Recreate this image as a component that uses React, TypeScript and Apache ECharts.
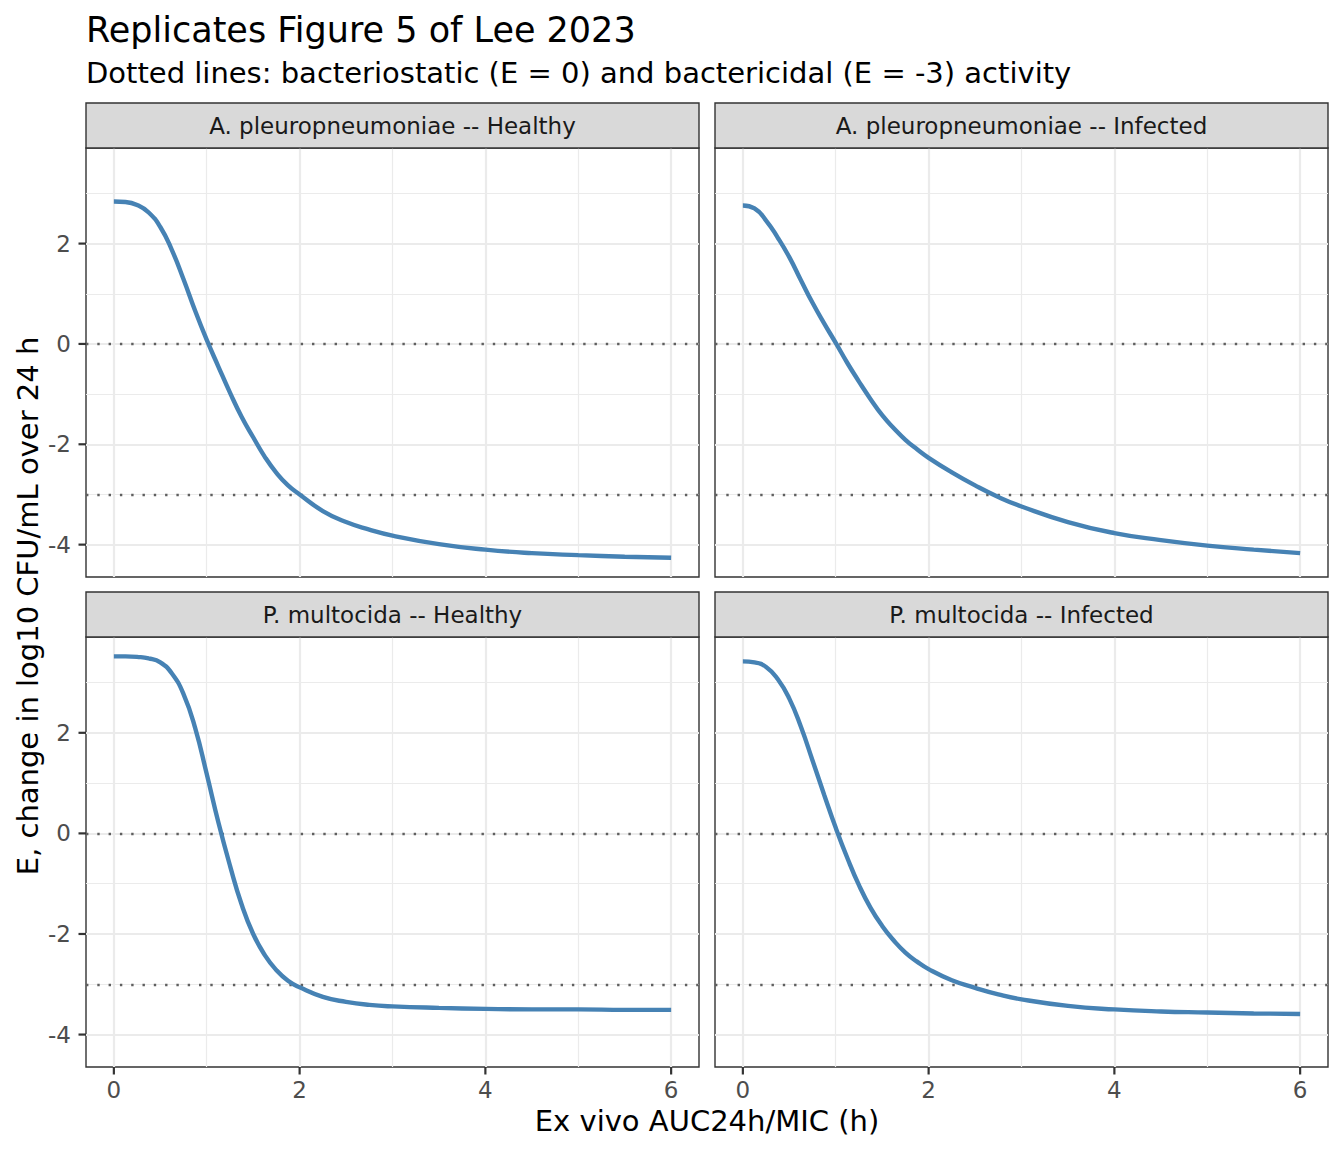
import React, { useEffect, useRef } from "react";
import * as echarts from "echarts";

// ---------- data ----------
const AUC_MIC = [0, 0.125, 0.25, 0.375, 0.5, 0.625, 0.75, 0.875, 1, 1.125, 1.25, 1.375, 1.5, 1.625, 1.75, 1.875, 2, 2.25, 2.5, 2.75, 3, 3.5, 4, 4.5, 5, 5.5, 6];

const PANEL_TITLES = [
  "A. pleuropneumoniae -- Healthy",
  "A. pleuropneumoniae -- Infected",
  "P. multocida -- Healthy",
  "P. multocida -- Infected",
];

const E_APP_HEALTHY = [2.84, 2.83, 2.77, 2.62, 2.33, 1.87, 1.29, 0.66, 0.08, -0.45, -0.97, -1.45, -1.86, -2.25, -2.57, -2.82, -3.0, -3.33, -3.55, -3.7, -3.82, -3.99, -4.1, -4.17, -4.21, -4.24, -4.26];
const E_APP_INFECTED = [2.76, 2.7, 2.46, 2.12, 1.73, 1.27, 0.82, 0.41, 0.02, -0.38, -0.75, -1.1, -1.42, -1.68, -1.91, -2.1, -2.27, -2.56, -2.82, -3.05, -3.24, -3.55, -3.77, -3.91, -4.02, -4.1, -4.17];
const E_PM_HEALTHY = [3.52, 3.52, 3.51, 3.48, 3.4, 3.18, 2.77, 2.1, 1.18, 0.22, -0.64, -1.41, -2.0, -2.42, -2.72, -2.93, -3.06, -3.25, -3.35, -3.41, -3.44, -3.47, -3.49, -3.5, -3.5, -3.51, -3.51];
const E_PM_INFECTED = [3.42, 3.4, 3.31, 3.07, 2.68, 2.12, 1.45, 0.77, 0.11, -0.49, -1.03, -1.48, -1.84, -2.13, -2.37, -2.55, -2.7, -2.92, -3.07, -3.2, -3.3, -3.43, -3.5, -3.54, -3.56, -3.58, -3.59];

const PANEL_VALUES = [E_APP_HEALTHY, E_APP_INFECTED, E_PM_HEALTHY, E_PM_INFECTED];

const X_TICKS = [0, 2, 4, 6];
const X_MINOR = [1, 3, 5];
const Y_TICKS = [-4, -2, 0, 2];
const Y_MINOR = [-3, -1, 1, 3];
const REF_LINES = [0, -3];

const X_MIN = -0.3;
const X_MAX = 6.3;
const Y_MIN = -4.645;
const Y_MAX = 3.905;

const TITLE = "Replicates Figure 5 of Lee 2023";
const SUBTITLE = "Dotted lines: bacteriostatic (E = 0) and bactericidal (E = -3) activity";
const X_TITLE = "Ex vivo AUC24h/MIC (h)";
const Y_TITLE = "E, change in log10 CFU/mL over 24 h";

// ---------- layout ----------
const FONT = "DejaVu Sans";
const COLS = [86, 715];
const PANEL_W = 613;
const ROWS = [
  { stripTop: 103, top: 148, h: 429 },
  { stripTop: 592, top: 637, h: 430 },
];
const STRIP_H = 45;
const TICK_LEN = 7.5;
const TICK_COLOR = "#333333";
const TICK_WIDTH = 2.2;

function baseGraphics(): any[] {
  const graphics: any[] = [];
  for (let i = 0; i < 4; i++) {
    const r = Math.floor(i / 2);
    const c = i % 2;
    const left = COLS[c];
    const row = ROWS[r];
    graphics.push({
      type: "rect",
      shape: { x: left, y: row.stripTop, width: PANEL_W, height: STRIP_H },
      style: { fill: "#D9D9D9", stroke: "#333333", lineWidth: 1.4 },
      z: 10,
    });
    graphics.push({
      type: "text",
      x: left + PANEL_W / 2,
      y: row.stripTop + STRIP_H / 2,
      style: {
        text: PANEL_TITLES[i],
        fontSize: 23,
        fontFamily: FONT,
        fill: "#1A1A1A",
        align: "center",
        verticalAlign: "middle",
      },
      z: 11,
    });
  }
  graphics.push({
    type: "text",
    x: 86,
    y: 30,
    style: { text: TITLE, fontSize: 35, fontFamily: FONT, fill: "#000000", align: "left", verticalAlign: "middle" },
  });
  graphics.push({
    type: "text",
    x: 86,
    y: 73,
    style: { text: SUBTITLE, fontSize: 29, fontFamily: FONT, fill: "#000000", align: "left", verticalAlign: "middle" },
  });
  graphics.push({
    type: "text",
    x: 707,
    y: 1121,
    style: { text: X_TITLE, fontSize: 29, fontFamily: FONT, fill: "#000000", align: "center", verticalAlign: "middle" },
  });
  graphics.push({
    type: "text",
    x: 28,
    y: 606,
    rotation: Math.PI / 2,
    style: { text: Y_TITLE, fontSize: 29, fontFamily: FONT, fill: "#000000", align: "center", verticalAlign: "middle" },
  });
  return graphics;
}

function buildOption() {
  const grids: any[] = [];
  const xAxes: any[] = [];
  const yAxes: any[] = [];
  const series: any[] = [];

  const majorStyle = { color: "#EBEBEB", width: 2.2, type: "solid" };
  const minorStyle = { color: "#EBEBEB", width: 1.2, type: "solid" };
  const labelStyle = { fontSize: 23, color: "#4D4D4D", fontFamily: FONT };

  for (let i = 0; i < 4; i++) {
    const r = Math.floor(i / 2);
    const c = i % 2;
    const left = COLS[c];
    const row = ROWS[r];
    const bottomRow = r === 1;
    const leftCol = c === 0;

    grids.push({
      left,
      top: row.top,
      width: PANEL_W,
      height: row.h,
      show: true,
      backgroundColor: "#FFFFFF",
      borderColor: "#333333",
      borderWidth: 1.4,
      containLabel: false,
    });

    xAxes.push({
      type: "value",
      gridIndex: i,
      position: "bottom",
      min: X_MIN,
      max: X_MAX,
      axisLine: { show: false, onZero: false },
      splitLine: { show: false },
      minorTick: { show: false },
      axisTick: { show: false },
      axisLabel: { show: bottomRow, customValues: X_TICKS, margin: 11, ...labelStyle },
    });
    yAxes.push({
      type: "value",
      gridIndex: i,
      position: "left",
      min: Y_MIN,
      max: Y_MAX,
      axisLine: { show: false, onZero: false },
      splitLine: { show: false },
      minorTick: { show: false },
      axisTick: { show: false },
      axisLabel: { show: leftCol, customValues: Y_TICKS, margin: 15, ...labelStyle },
    });

    // grid lines (drawn through the axes)
    series.push({
      type: "line",
      xAxisIndex: i,
      yAxisIndex: i,
      data: [[X_MIN, Y_MIN]],
      showSymbol: false,
      symbol: "none",
      lineStyle: { width: 0, opacity: 0 },
      silent: true,
      z: 1,
      markLine: {
        silent: true,
        z: 1,
        symbol: ["none", "none"],
        label: { show: false },
        emphasis: { disabled: true },
        animation: false,
        data: [
          ...X_MINOR.map((v) => ({ xAxis: v, lineStyle: minorStyle })),
          ...Y_MINOR.map((v) => ({ yAxis: v, lineStyle: minorStyle })),
          ...X_TICKS.map((v) => ({ xAxis: v, lineStyle: majorStyle })),
          ...Y_TICKS.map((v) => ({ yAxis: v, lineStyle: majorStyle })),
        ],
      },
    });

    // curve + dotted reference lines
    series.push({
      type: "line",
      name: PANEL_TITLES[i],
      xAxisIndex: i,
      yAxisIndex: i,
      data: AUC_MIC.map((x, j) => [x, PANEL_VALUES[i][j]]),
      showSymbol: false,
      symbol: "none",
      smooth: 0.5,
      lineStyle: { color: "#4682B4", width: 4.4 },
      silent: true,
      z: 4,
      markLine: {
        silent: true,
        z: 3,
        symbol: ["none", "none"],
        label: { show: false },
        emphasis: { disabled: true },
        animation: false,
        data: REF_LINES.map((v) => ({
          yAxis: v,
          lineStyle: { color: "#5F5F5F", width: 2.4, type: [2.4, 8.9] },
        })),
      },
    });
  }

  return {
    animation: false,
    backgroundColor: "#FFFFFF",
    textStyle: { fontFamily: FONT },
    grid: grids,
    xAxis: xAxes,
    yAxis: yAxes,
    series,
    graphic: baseGraphics(),
  };
}

// axis ticks, positioned through the chart's own scales
function tickGraphics(chart: any): any[] {
  const out: any[] = [];
  const style = { stroke: TICK_COLOR, lineWidth: TICK_WIDTH };
  for (let i = 0; i < 4; i++) {
    const bottomRow = Math.floor(i / 2) === 1;
    const leftCol = i % 2 === 0;
    if (bottomRow) {
      X_TICKS.forEach((v) => {
        const p = chart.convertToPixel({ gridIndex: i }, [v, Y_MIN]);
        if (!p) return;
        out.push({
          type: "line",
          shape: { x1: p[0], y1: p[1], x2: p[0], y2: p[1] + TICK_LEN },
          style,
          z: 12,
        });
      });
    }
    if (leftCol) {
      Y_TICKS.forEach((v) => {
        const p = chart.convertToPixel({ gridIndex: i }, [X_MIN, v]);
        if (!p) return;
        out.push({
          type: "line",
          shape: { x1: p[0] - TICK_LEN, y1: p[1], x2: p[0], y2: p[1] },
          style,
          z: 12,
        });
      });
    }
  }
  return out;
}

export default function App() {
  const ref = useRef<HTMLDivElement>(null);
  useEffect(() => {
    document.body.style.margin = "0";
    const chart = echarts.init(ref.current as HTMLDivElement, null, {
      renderer: "svg",
      width: 1344,
      height: 1152,
    });
    chart.setOption(buildOption() as any);
    chart.setOption({ graphic: [...baseGraphics(), ...tickGraphics(chart)] } as any);
    return () => chart.dispose();
  }, []);
  return <div ref={ref} style={{ width: 1344, height: 1152 }} />;
}
